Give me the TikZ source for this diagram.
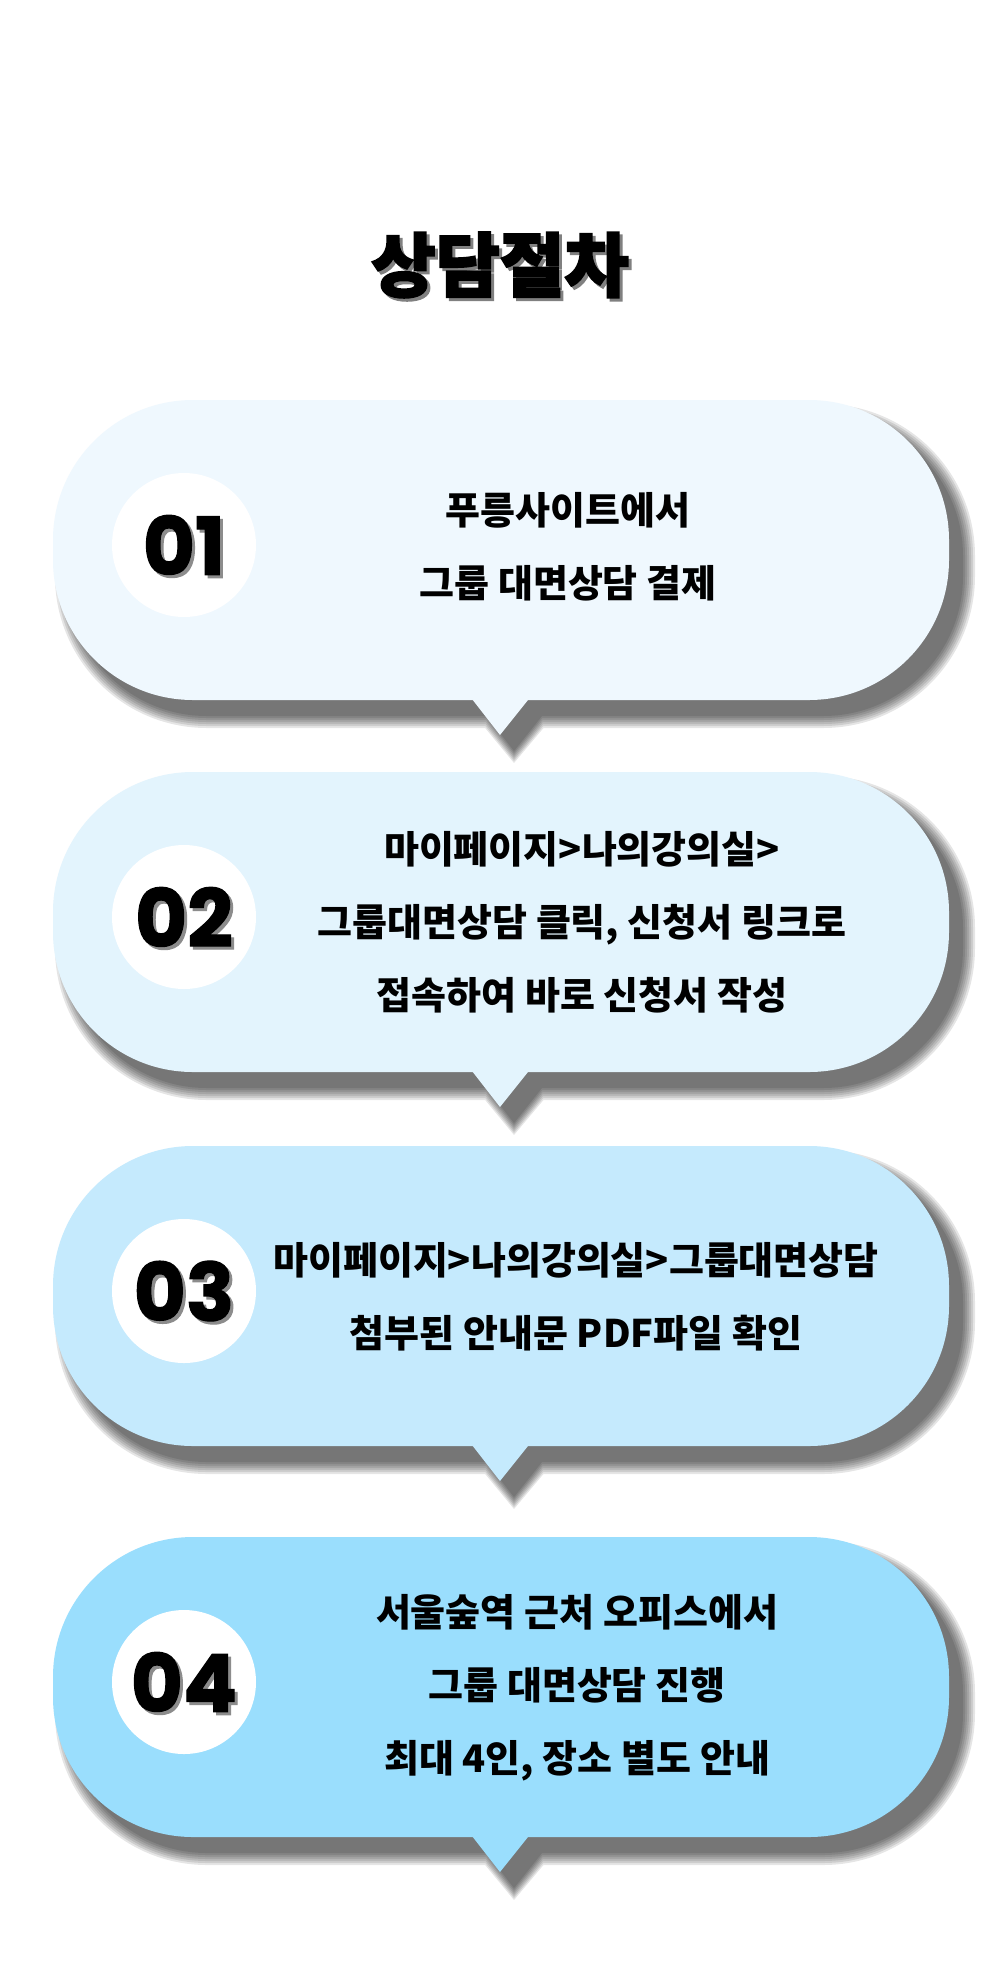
\documentclass[tikz,border=0pt]{standalone}
\usepackage{fontspec}
\setmainfont{Noto Sans CJK KR}
\newfontfamily\titlefont{Noto Sans CJK KR}[BoldFeatures={FakeBold=2.5}]
\newfontfamily\numfont{Poppins}[BoldFeatures={FakeBold=1.5}]
\usetikzlibrary{positioning}
\definecolor{stepA}{HTML}{EFF8FE}
\definecolor{stepB}{HTML}{E3F4FD}
\definecolor{stepC}{HTML}{C5EAFD}
\definecolor{stepD}{HTML}{9ADEFD}

\begin{document}
\begin{tikzpicture}[
        x=0.5pt, y=-0.5pt,
        badge/.style={circle, fill=white, minimum size=72pt, inner sep=0pt},
        numtxt/.style={font=\numfont\bfseries\fontsize{40}{40}\selectfont, inner sep=0pt},
        steptxt/.style={align=center, font=\bfseries\fontsize{19}{36.5}\selectfont},
        headtxt/.style={font=\titlefont\bfseries\fontsize{35}{35}\selectfont, inner sep=0pt}
    ]
    \fill[white] (0,0) rectangle (1000,1987);
    \useasboundingbox (0,0) rectangle (1000,1987);

    % title with its grey shadow
    \node[headtxt, text=black!50] (titleshadow) at (503,268) {상담절차};
    \node[headtxt] (title) at (500,265) {상담절차};

    % speech bubbles with soft shadow
    \foreach \t/\c/\n in {400/stepA/1, 772/stepB/2, 1146/stepC/3, 1537/stepD/4}{
        \pgfmathsetmacro\b{\t+300}
        \foreach \r in {0,2,...,12}{
            \pgfmathsetmacro\rc{70+\r/2}
            \fill[black, opacity=0.1, shift={(14,16)}] [rounded corners=\rc pt]
                (53-\r,\t-\r) rectangle (949+\r,\b+\r)
                [sharp corners] (536+\r,\b-10) -- (465-\r,\b-10) -- (500,\b+35+\r) -- cycle;
        }
        \fill[\c] [rounded corners=70pt] (53,\t) rectangle (949,\b)
            [sharp corners] (536,\b-10) -- (465,\b-10) -- (500,\b+35) -- cycle;
        \node[badge] (badge\n) at (184,\t+145) {};
        \node[numtxt, text=black!45] at ([shift={(3,3)}]badge\n.center) {0\n};
        \node[numtxt] (num\n) at (badge\n) {0\n};
    }

    \node[steptxt] (txt1) at (568,547) {푸릉사이트에서\\그룹 대면상담 결제};
    \node[steptxt] (txt2) at (582,922) {마이페이지>나의강의실>\\그룹대면상담 클릭, 신청서 링크로\\접속하여 바로 신청서 작성};
    \node[steptxt] (txt3) at (576,1297) {마이페이지>나의강의실>그룹대면상담\\첨부된 안내문 PDF파일 확인};
    \node[steptxt] (txt4) at (577,1688) {서울숲역 근처 오피스에서\\그룹 대면상담 진행\\최대 4인, 장소 별도 안내};
\end{tikzpicture}
\end{document}
